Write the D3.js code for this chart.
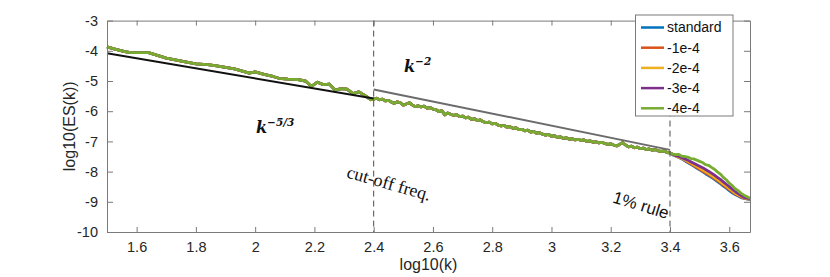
<!DOCTYPE html>
<html>
<head>
<meta charset="utf-8">
<script src="https://cdn.jsdelivr.net/npm/d3@7"></script>
<style>
  body { margin: 0; background: #fff; }
  svg text { font-family: "Liberation Sans", Arial, sans-serif; }
</style>
</head>
<body>
<div id="chart"></div>
<script>
// log10(k) grid shared by all runs (they coincide up to the 1% rule)
var logK = [1.5, 1.53, 1.56, 1.58, 1.61, 1.64, 1.67, 1.70, 1.73, 1.76, 1.80, 1.84, 1.87, 1.90,
    1.93, 1.96, 1.98, 2.00, 2.03, 2.06, 2.08, 2.11, 2.14, 2.17, 2.19, 2.21, 2.23, 2.25, 2.27,
    2.29, 2.31, 2.33, 2.35, 2.37, 2.39,
    2.40, 2.41, 2.42, 2.43, 2.44, 2.45, 2.46, 2.47, 2.48, 2.49,
    2.50, 2.51, 2.52, 2.53, 2.54, 2.55, 2.56, 2.57, 2.58, 2.59,
    2.60, 2.61, 2.62, 2.63, 2.64, 2.65, 2.66, 2.67, 2.68, 2.69,
    2.70, 2.71, 2.72, 2.73, 2.74, 2.75, 2.76, 2.77, 2.78, 2.79,
    2.80, 2.81, 2.82, 2.83, 2.84, 2.85, 2.86, 2.87, 2.88, 2.89,
    2.90, 2.91, 2.92, 2.93, 2.94, 2.95, 2.96, 2.97, 2.98, 2.99,
    3.00, 3.01, 3.02, 3.03, 3.04, 3.05, 3.06, 3.07, 3.08, 3.09,
    3.10, 3.11, 3.12, 3.13, 3.14, 3.15, 3.16, 3.17, 3.18, 3.19,
    3.20, 3.21, 3.22, 3.23, 3.24, 3.25, 3.26, 3.27, 3.28, 3.29,
    3.30, 3.31, 3.32, 3.33, 3.34, 3.35, 3.36, 3.37, 3.38, 3.39,
    3.40];
var logES = [-3.87, -3.95, -4.03, -4.06, -4.06, -4.06, -4.15, -4.24, -4.30, -4.36, -4.43, -4.46,
    -4.50, -4.55, -4.60, -4.68, -4.74, -4.70, -4.78, -4.85, -4.91, -4.94, -4.95, -5.00, -5.18,
    -5.04, -5.12, -5.10, -5.30, -5.25, -5.27, -5.42, -5.36, -5.48, -5.62,
    -5.60, -5.57, -5.62, -5.60, -5.66, -5.64, -5.70, -5.74, -5.69, -5.72,
    -5.80, -5.76, -5.72, -5.79, -5.85, -5.82, -5.86, -5.83, -5.90, -5.88,
    -5.93, -5.95, -6.01, -5.98, -6.12, -6.06, -6.10, -6.14, -6.11, -6.18,
    -6.16, -6.22, -6.20, -6.27, -6.25, -6.31, -6.29, -6.35, -6.38, -6.36,
    -6.42, -6.40, -6.46, -6.49, -6.47, -6.53, -6.51, -6.57, -6.55, -6.61,
    -6.60, -6.65, -6.63, -6.69, -6.67, -6.73, -6.71, -6.76, -6.79, -6.77,
    -6.83, -6.81, -6.87, -6.85, -6.90, -6.88, -6.93, -6.91, -6.95, -6.93,
    -6.97, -6.95, -7.00, -6.98, -7.03, -7.01, -7.05, -7.03, -7.07, -7.10,
    -7.08, -7.12, -7.15, -7.10, -7.04, -7.12, -7.18, -7.16, -7.21, -7.19,
    -7.24, -7.22, -7.27, -7.25, -7.29, -7.27, -7.31, -7.33, -7.31, -7.37,
    -7.38];

// past the 1% rule the runs separate
var logKTail = [3.41, 3.42, 3.43, 3.44, 3.45, 3.46, 3.47, 3.48, 3.49, 3.50, 3.51, 3.52, 3.53,
    3.54, 3.55, 3.56, 3.57, 3.58, 3.59, 3.60, 3.61, 3.62, 3.63, 3.64, 3.65, 3.67];
var tailStandard = [-7.45, -7.49, -7.53, -7.58, -7.64, -7.70, -7.76, -7.82, -7.88, -7.94, -8.00,
    -8.07, -8.13, -8.19, -8.26, -8.33, -8.40, -8.48, -8.55, -8.63, -8.70, -8.76, -8.81, -8.86,
    -8.89, -8.93];
var tail1e4 = [-7.44, -7.48, -7.52, -7.57, -7.62, -7.68, -7.74, -7.80, -7.86, -7.92, -7.98,
    -8.04, -8.10, -8.16, -8.23, -8.30, -8.37, -8.45, -8.52, -8.60, -8.67, -8.74, -8.79, -8.84,
    -8.88, -8.92];
var tail2e4 = [-7.44, -7.48, -7.52, -7.56, -7.61, -7.66, -7.71, -7.77, -7.82, -7.88, -7.94,
    -8.00, -8.06, -8.12, -8.19, -8.26, -8.33, -8.41, -8.48, -8.56, -8.63, -8.71, -8.77, -8.82,
    -8.87, -8.91];
var tail3e4 = [-7.43, -7.47, -7.50, -7.54, -7.58, -7.62, -7.67, -7.72, -7.77, -7.82, -7.87,
    -7.93, -7.99, -8.05, -8.12, -8.19, -8.26, -8.34, -8.42, -8.50, -8.58, -8.66, -8.73, -8.79,
    -8.85, -8.90];
var tail4e4 = [-7.42, -7.44, -7.43, -7.49, -7.50, -7.52, -7.57, -7.58, -7.62, -7.66, -7.70,
    -7.77, -7.79, -7.86, -7.92, -8.01, -8.08, -8.19, -8.27, -8.38, -8.46, -8.57, -8.63, -8.72,
    -8.78, -8.88];

var seriesNames = ["standard", "-1e-4", "-2e-4", "-3e-4", "-4e-4"];
var seriesTails = [tailStandard, tail1e4, tail2e4, tail3e4, tail4e4];
var seriesColors = ["#0072BD", "#D95319", "#EDB120", "#7E2F8E", "#77AC30"];

// reference slopes
var slope53K = [1.5, 2.4];
var slope53ES = [-4.08, -5.58];
var slope2K = [2.4, 3.4];
var slope2ES = [-5.28, -7.28];
var cutoffs = [2.4, 3.4];

var xTicks = [1.6, 1.8, 2, 2.2, 2.4, 2.6, 2.8, 3, 3.2, 3.4, 3.6];
var yTicks = [-3, -4, -5, -6, -7, -8, -9, -10];

var width = 830, height = 277;
var plotLeft = 107, plotRight = 750, plotTop = 20.6, plotBottom = 232;

var svg = d3.select("#chart").append("svg")
    .attr("width", width)
    .attr("height", height);

var x = d3.scaleLinear().domain([1.5, 3.67]).range([plotLeft, plotRight]);
var y = d3.scaleLinear().domain([-10, -3]).range([plotBottom, plotTop]);

var line = d3.line()
    .x(function (d) { return x(d[0]); })
    .y(function (d) { return y(d[1]); });

function pairs(xs, ys) {
    return xs.map(function (v, i) { return [v, ys[i]]; });
}

// curves, green drawn last so it sits on top
seriesNames.forEach(function (name, i) {
    var pts = pairs(logK, logES).concat(pairs(logKTail, seriesTails[i]));
    svg.append("path")
        .datum(pts)
        .attr("d", line)
        .attr("fill", "none")
        .attr("stroke", seriesColors[i])
        .attr("stroke-width", 2.8)
        .attr("stroke-linejoin", "round");
});

svg.append("path")
    .datum(pairs(slope53K, slope53ES))
    .attr("d", line)
    .attr("stroke", "#111")
    .attr("stroke-width", 2);

svg.append("path")
    .datum(pairs(slope2K, slope2ES))
    .attr("d", line)
    .attr("stroke", "#6b6b6b")
    .attr("stroke-width", 2);

svg.selectAll(".cutoff")
    .data(cutoffs)
    .enter().append("line")
    .attr("class", "cutoff")
    .attr("x1", function (d) { return x(d); })
    .attr("x2", function (d) { return x(d); })
    .attr("y1", plotTop)
    .attr("y2", plotBottom)
    .attr("stroke", "#4d4d4d")
    .attr("stroke-width", 1)
    .attr("stroke-dasharray", "6,4");

// axes box with inward ticks
var axisColor = "#7a7a7a";
var gx = svg.append("g").attr("transform", "translate(0," + plotBottom + ")")
    .call(d3.axisBottom(x).tickValues(xTicks).tickSizeInner(-5).tickSizeOuter(0).tickPadding(10)
        .tickFormat(d3.format("")));
var gxTop = svg.append("g").attr("transform", "translate(0," + plotTop + ")")
    .call(d3.axisTop(x).tickValues(xTicks).tickSizeInner(-5).tickSizeOuter(0).tickFormat(""));
var gy = svg.append("g").attr("transform", "translate(" + plotLeft + ",0)")
    .call(d3.axisLeft(y).tickValues(yTicks).tickSizeInner(-6).tickSizeOuter(0).tickPadding(9)
        .tickFormat(function (d) { return String(d); }));
var gyRight = svg.append("g").attr("transform", "translate(" + plotRight + ",0)")
    .call(d3.axisRight(y).tickValues(yTicks).tickSizeInner(-6).tickSizeOuter(0).tickFormat(""));

[gx, gxTop, gy, gyRight].forEach(function (g) {
    g.select(".domain").attr("stroke", axisColor);
    g.selectAll(".tick line").attr("stroke", axisColor);
    g.selectAll("text")
        .attr("fill", "#262626")
        .style("font-size", "14.5px")
        .style("font-family", "'Liberation Sans', Arial, sans-serif");
});

svg.append("text")
    .attr("x", (plotLeft + plotRight) / 2)
    .attr("y", 270)
    .attr("text-anchor", "middle")
    .attr("fill", "#262626")
    .style("font-size", "16px")
    .text("log10(k)");

svg.append("text")
    .attr("transform", "translate(75," + (plotTop + plotBottom) / 2 + ") rotate(-90)")
    .attr("text-anchor", "middle")
    .attr("fill", "#262626")
    .style("font-size", "16px")
    .text("log10(ES(k))");

// annotations
var k53 = svg.append("text")
    .attr("x", 256)
    .attr("y", 133)
    .style("font-family", "'DejaVu Serif', serif")
    .style("font-weight", "bold")
    .style("font-style", "italic")
    .style("font-size", "16px")
    .attr("fill", "#111");
k53.append("tspan").text("k");
k53.append("tspan").attr("dy", -7).style("font-size", "10.5px").text("\u22125/3");

var k2 = svg.append("text")
    .attr("x", 404)
    .attr("y", 72)
    .style("font-family", "'DejaVu Serif', serif")
    .style("font-weight", "bold")
    .style("font-style", "italic")
    .style("font-size", "16px")
    .attr("fill", "#111");
k2.append("tspan").text("k");
k2.append("tspan").attr("dy", -7).style("font-size", "10.5px").text("\u22122");

svg.append("text")
    .attr("transform", "translate(389,183) rotate(16)")
    .attr("text-anchor", "middle")
    .attr("dy", "0.35em")
    .style("font-family", "'Liberation Serif', 'Times New Roman', serif")
    .style("font-size", "18px")
    .attr("fill", "#111")
    .text("cut-off freq.");

svg.append("text")
    .attr("transform", "translate(641,205) rotate(17)")
    .attr("text-anchor", "middle")
    .attr("dy", "0.35em")
    .style("font-size", "17px")
    .attr("fill", "#111")
    .text("1% rule");

// legend
var legend = svg.append("g");
legend.append("rect")
    .attr("x", 635.5)
    .attr("y", 15)
    .attr("width", 97.5)
    .attr("height", 101)
    .attr("fill", "#fff")
    .attr("stroke", axisColor);

seriesNames.forEach(function (name, i) {
    var ly = 27.5 + i * 20.2;
    legend.append("line")
        .attr("x1", 641).attr("x2", 664)
        .attr("y1", ly).attr("y2", ly)
        .attr("stroke", seriesColors[i])
        .attr("stroke-width", 2.5);
    legend.append("text")
        .attr("x", 667)
        .attr("y", ly)
        .attr("dy", "0.35em")
        .attr("fill", "#111")
        .style("font-size", "14px")
        .text(name);
});
</script>
</body>
</html>
